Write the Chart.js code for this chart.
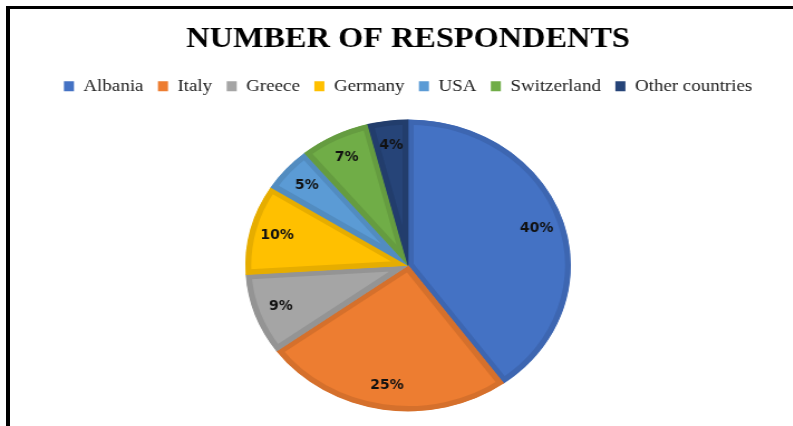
<!DOCTYPE html>
<html>
<head>
<meta charset="utf-8">
<script src="https://cdn.jsdelivr.net/npm/chart.js@4/dist/chart.umd.min.js"></script>
<style>
  html, body { margin: 0; padding: 0; background: #fff; overflow: hidden; }
  #wrap { position: relative; width: 793px; height: 426px; overflow: hidden; }
  #chart { position: absolute; left: 0; top: 0; transform: scaleX(1.115); transform-origin: 0 0; }
  #frame { position: absolute; left: 6px; top: 6px; width: 800px; height: 430px;
           border-left: 4px solid #000; border-top: 3px solid #000; }
</style>
</head>
<body>
<div id="wrap">
  <canvas id="chart" width="732" height="426"></canvas>
  <div id="frame"></div>
</div>
<script>
var categories = ["Albania", "Italy", "Greece", "Germany", "USA", "Switzerland", "Other countries"];
var shares = [40, 25, 9, 10, 5, 7, 4];
var fillColors = ["#4472C4", "#ED7D31", "#A5A5A5", "#FFC000", "#5B9BD5", "#70AD47", "#264478"];
var edgeColors = ["#3D66B1", "#D5702C", "#949494", "#E6AD00", "#528CC0", "#659C40", "#223D6C"];
var stretch = 1.115;

// percent labels inside the slices
const sliceLabels = {
  id: "sliceLabels",
  afterDatasetsDraw(chart) {
    const ctx = chart.ctx;
    const meta = chart.getDatasetMeta(0);
    meta.data.forEach((arc, i) => {
      const p = arc.getProps(["x", "y", "startAngle", "endAngle", "outerRadius"], true);
      const mid = (p.startAngle + p.endAngle) / 2;
      const r = p.outerRadius * 0.83;
      const x = p.x + Math.cos(mid) * r;
      const y = p.y + Math.sin(mid) * r;
      ctx.save();
      ctx.translate(x, y);
      ctx.scale(1 / stretch, 1); // undo the page stretch for the labels
      ctx.font = "bold 14px 'DejaVu Sans'";
      ctx.fillStyle = "#111";
      ctx.textAlign = "center";
      ctx.textBaseline = "middle";
      ctx.fillText(shares[i] + "%", 0, 0);
      ctx.restore();
    });
  }
};

const config = {
  type: "pie",
  data: {
    labels: categories,
    datasets: [
      {
        data: shares,
        backgroundColor: fillColors,
        borderColor: edgeColors,
        borderWidth: 5,
        borderAlign: "inner",
        radius: 146,
      },
    ],
  },
  options: {
    responsive: false,
    animation: false,
    events: [],
    layout: { padding: { bottom: 0 } },
    plugins: {
      title: {
        display: true,
        text: "NUMBER OF RESPONDENTS",
        color: "#000",
        font: { family: "'Liberation Serif'", size: 29, weight: "bold" },
        padding: { top: 22, bottom: 8 },
      },
      legend: {
        display: true,
        position: "top",
        labels: {
          boxWidth: 9,
          boxHeight: 10,
          padding: 13,
          color: "#222",
          font: { family: "'Liberation Serif'", size: 17 },
          generateLabels: () => categories.map((c, i) => ({
            text: c, fillStyle: fillColors[i], strokeStyle: fillColors[i],
            lineWidth: 0, hidden: false, index: i, fontColor: "#222",
          })),
        },
      },
      tooltip: { enabled: false },
    },
  },
  plugins: [sliceLabels],
};

window.addEventListener("load", function () {
  const ctx = document.getElementById("chart");
  new Chart(ctx, config);
});
</script>
</body>
</html>
